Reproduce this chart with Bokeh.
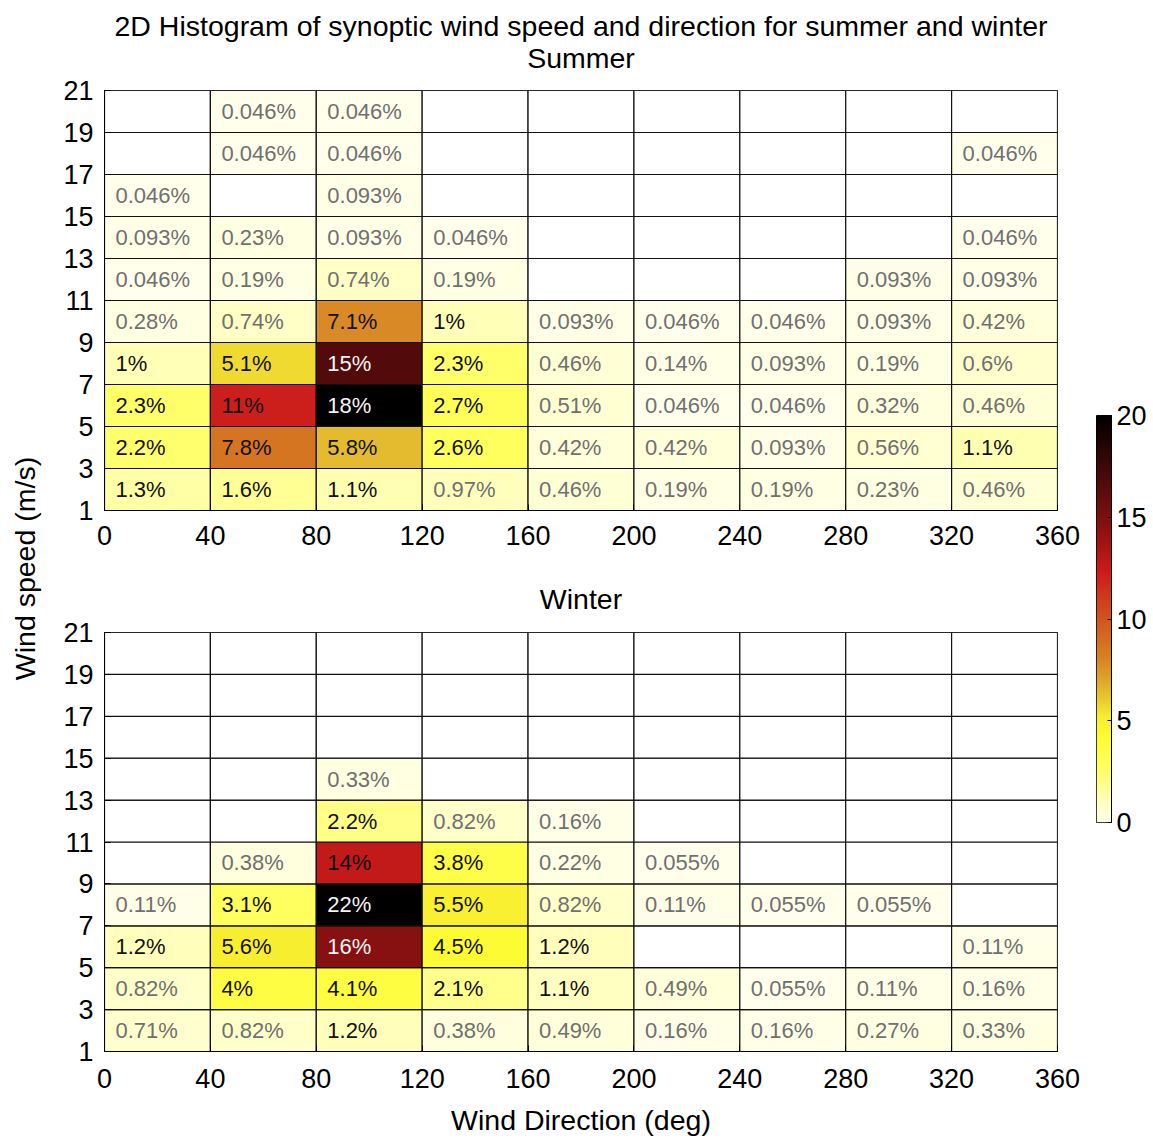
import numpy as np
from bokeh.plotting import figure
from bokeh.models import (ColumnDataSource, LinearColorMapper, FixedTicker, Range1d)
from bokeh.layouts import row, column
from bokeh.core.properties import value
from bokeh.embed import file_html
from bokeh.resources import INLINE

# ---------------- data ----------------
dir_edges = [0, 40, 80, 120, 160, 200, 240, 280, 320, 360]
speed_edges = [1, 3, 5, 7, 9, 11, 13, 15, 17, 19, 21]
x_ticks = [0, 40, 80, 120, 160, 200, 240, 280, 320, 360]
y_ticks = [1, 3, 5, 7, 9, 11, 13, 15, 17, 19, 21]
cbar_ticks = [0, 5, 10, 15, 20]

main_title = "2D Histogram of synoptic wind speed and direction for summer and winter"
panel_titles = ["Summer", "Winter"]

# percentages, rows from speed 1-3 (bottom) up to 19-21 (top); columns 0-40 ... 320-360
summer_pct = [
    [1.3, 1.6, 1.1, 0.97, 0.46, 0.19, 0.19, 0.23, 0.46],
    [2.2, 7.8, 5.8, 2.6, 0.42, 0.42, 0.093, 0.56, 1.1],
    [2.3, 11, 18, 2.7, 0.51, 0.046, 0.046, 0.32, 0.46],
    [1, 5.1, 15, 2.3, 0.46, 0.14, 0.093, 0.19, 0.6],
    [0.28, 0.74, 7.1, 1, 0.093, 0.046, 0.046, 0.093, 0.42],
    [0.046, 0.19, 0.74, 0.19, 0, 0, 0, 0.093, 0.093],
    [0.093, 0.23, 0.093, 0.046, 0, 0, 0, 0, 0.046],
    [0.046, 0, 0.093, 0, 0, 0, 0, 0, 0],
    [0, 0.046, 0.046, 0, 0, 0, 0, 0, 0.046],
    [0, 0.046, 0.046, 0, 0, 0, 0, 0, 0],
]
winter_pct = [
    [0.71, 0.82, 1.2, 0.38, 0.49, 0.16, 0.16, 0.27, 0.33],
    [0.82, 4, 4.1, 2.1, 1.1, 0.49, 0.055, 0.11, 0.16],
    [1.2, 5.6, 16, 4.5, 1.2, 0, 0, 0, 0.11],
    [0.11, 3.1, 22, 5.5, 0.82, 0.11, 0.055, 0.055, 0],
    [0, 0.38, 14, 3.8, 0.22, 0.055, 0, 0, 0],
    [0, 0, 2.2, 0.82, 0.16, 0, 0, 0, 0],
    [0, 0, 0.33, 0, 0, 0, 0, 0, 0],
    [0, 0, 0, 0, 0, 0, 0, 0, 0],
    [0, 0, 0, 0, 0, 0, 0, 0, 0],
    [0, 0, 0, 0, 0, 0, 0, 0, 0],
]

# ---------------- palette (white -> yellow -> orange -> red -> black) ----------------
anchors = [
    (0.00, (255, 255, 236)),
    (0.05, (255, 255, 188)),
    (0.13, (255, 255, 100)),
    (0.21, (253, 252, 48)),
    (0.26, (246, 236, 48)),
    (0.29, (237, 212, 48)),
    (0.33, (226, 180, 46)),
    (0.40, (216, 132, 36)),
    (0.45, (212, 108, 32)),
    (0.62, (204, 26, 26)),
    (0.74, (128, 16, 16)),
    (0.84, (80, 10, 10)),
    (1.00, (0, 0, 0)),
]
ts = np.array([a[0] for a in anchors])
cols = np.array([a[1] for a in anchors], dtype=float)
palette = []
for t in np.linspace(0, 1, 256):
    rgb = [int(round(np.interp(t, ts, cols[:, k]))) for k in range(3)]
    palette.append("#%02x%02x%02x" % tuple(rgb))

FONT = "Liberation Sans"
TICK_FS = "27px"
LABEL_FS = "28.5px"
FRAME_LEFT = 60       # left border inside heatmap figures
FRAME_W = 953
FRAME_RIGHT = 24
FIG_W = FRAME_LEFT + FRAME_W + FRAME_RIGHT


def build_source(pct):
    left, right, bottom, top, vals, labels, tcol = [], [], [], [], [], [], []
    vmax = max(max(r) for r in pct)
    for i, r in enumerate(pct):
        for j, v in enumerate(r):
            left.append(dir_edges[j]); right.append(dir_edges[j + 1])
            bottom.append(speed_edges[i]); top.append(speed_edges[i + 1])
            vals.append(v)
            labels.append(("%g%%" % v) if v > 0 else "")
            if v < 1:
                tcol.append("#707070")
            elif v / vmax > 0.7:
                tcol.append("#f4f4f4")
            else:
                tcol.append("#111111")
    return ColumnDataSource(dict(left=left, right=right, bottom=bottom, top=top,
                                 val=vals, label=labels, tcol=tcol)), vmax


def header(height, texts, ys_from_top):
    h = figure(width=FIG_W, height=height, output_backend="svg", toolbar_location=None,
               x_range=Range1d(0, 1), y_range=Range1d(0, height), title=None,
               min_border=0, min_border_left=0, min_border_right=0,
               min_border_top=0, min_border_bottom=0)
    h.axis.visible = False
    h.grid.visible = False
    h.outline_line_color = None
    h.text(x=[0.5] * len(texts), y=[height - y for y in ys_from_top], text=texts,
           text_align="center", text_baseline="middle", text_font=value(FONT),
           text_font_size=LABEL_FS, text_color="black")
    return h


def panel(pct, height, border_top, border_bottom, tick_standoff, xlabel=None):
    src, vmax = build_source(pct)
    mapper = LinearColorMapper(palette=palette, low=1e-9, high=vmax, low_color="white")
    p = figure(width=FIG_W, height=height, output_backend="svg", toolbar_location=None,
               x_range=Range1d(0, 360), y_range=Range1d(1, 21), title=None,
               min_border_left=FRAME_LEFT, min_border_right=FRAME_RIGHT,
               min_border_top=border_top, min_border_bottom=border_bottom)
    p.quad(left="left", right="right", bottom="bottom", top="top", source=src,
           fill_color={"field": "val", "transform": mapper}, line_color="#111111", line_width=1.2)
    p.text(x="left", y="bottom", text="label", source=src, x_offset=11, y_offset=-21,
           text_align="left", text_baseline="middle", text_color="tcol",
           text_font=value(FONT), text_font_size="22px")
    p.grid.visible = False
    p.outline_line_color = "black"
    p.xaxis.ticker = FixedTicker(ticks=x_ticks)
    p.yaxis.ticker = FixedTicker(ticks=y_ticks)
    for ax in (p.xaxis[0], p.yaxis[0]):
        ax.major_label_text_font = FONT
        ax.major_label_text_font_size = TICK_FS
        ax.major_label_text_color = "black"
        ax.axis_line_color = "black"
        ax.major_tick_in = 6
        ax.major_tick_out = 0
        ax.minor_tick_line_color = None
        ax.major_tick_line_color = "black"
    p.xaxis.major_label_standoff = tick_standoff
    p.yaxis.major_label_standoff = 11
    if xlabel:
        p.xaxis.axis_label = xlabel
        p.xaxis.axis_label_text_font = FONT
        p.xaxis.axis_label_text_font_size = LABEL_FS
        p.xaxis.axis_label_text_font_style = "normal"
        p.xaxis.axis_label_text_color = "black"
        p.xaxis.axis_label_standoff = 13
    return p


H1, P1, H2, P2 = 72, 18 + 420 + 65, 39, 18 + 419 + 88
h1 = header(H1, [main_title, panel_titles[0]], [25, 57])
p1 = panel(summer_pct, P1, 18, 65, 15)
h2 = header(H2, [panel_titles[1]], [23])
p2 = panel(winter_pct, P2, 18, 88, 17, xlabel="Wind Direction (deg)")

TOTAL_H = H1 + P1 + H2 + P2

# y label strip (its frame is aligned with the colorbar frame: 415..822)
pl = figure(width=44, height=TOTAL_H, output_backend="svg", toolbar_location=None,
            x_range=Range1d(0, 1), y_range=Range1d(0, 1), title=None,
            min_border=0, min_border_left=0, min_border_right=0, min_border_top=0, min_border_bottom=0)
pl.axis.visible = False
pl.grid.visible = False
pl.outline_line_color = None
pl.text(x=[0.55], y=[0.624], text=["Wind speed (m/s)"], angle=np.pi / 2,
        text_align="center", text_baseline="middle", text_font=value(FONT),
        text_font_size=LABEL_FS, text_color="black")

# colorbar strip: frame at x 1096..1111, y 415..822
cb_left = 1096 - (44 + FIG_W)
cb = figure(width=cb_left + 15 + 40, height=TOTAL_H, output_backend="svg", toolbar_location=None,
            x_range=Range1d(0, 1), y_range=Range1d(0, 20), y_axis_location="right", title=None,
            min_border_left=cb_left, min_border_right=40, min_border_top=415,
            min_border_bottom=TOTAL_H - 822)
cb_mapper = LinearColorMapper(palette=palette, low=0, high=20)
grad = np.linspace(0, 20, 256).reshape(256, 1)
cb.image(image=[grad], x=0, y=0, dw=1, dh=20, color_mapper=cb_mapper)
cb.xaxis.visible = False
cb.grid.visible = False
cb.outline_line_color = "black"
cb.yaxis.ticker = FixedTicker(ticks=cbar_ticks)
cb.yaxis.major_label_text_font = FONT
cb.yaxis.major_label_text_font_size = TICK_FS
cb.yaxis.major_label_text_color = "black"
cb.yaxis.axis_line_color = "black"
cb.yaxis.major_tick_in = 4
cb.yaxis.major_tick_out = 0
cb.yaxis.minor_tick_line_color = None
cb.yaxis.major_label_standoff = 5

layout = row(pl, column(h1, p1, h2, p2), cb)
open("out.html", "w").write(file_html(layout, INLINE))
